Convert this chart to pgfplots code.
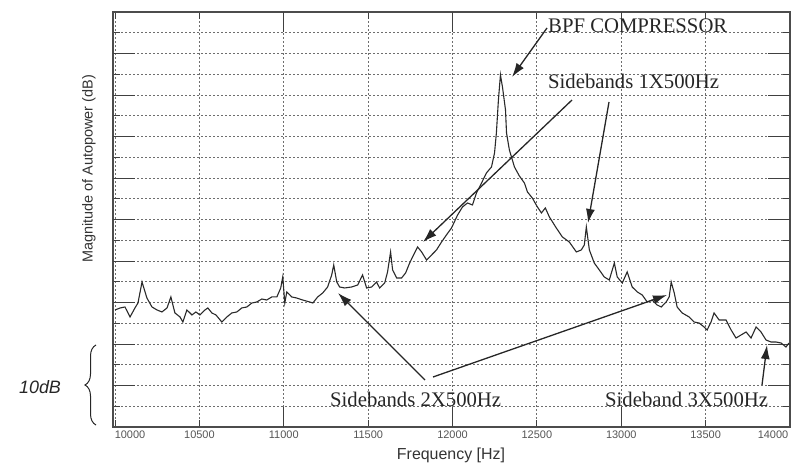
\documentclass[border=0pt]{standalone}
\usepackage{pgfplots}
\pgfplotsset{compat=1.18}
\usepackage{fontspec}
\setmainfont{Liberation Sans}
\newfontfamily\timesfont{Liberation Serif}
\usetikzlibrary{arrows.meta,decorations.pathreplacing}
\definecolor{curve}{HTML}{2A2A2A}
\definecolor{gridc}{HTML}{6E6E6E}
\definecolor{lab}{HTML}{555555}
\begin{document}
\begin{tikzpicture}
\begin{axis}[
  at={(113bp,40bp)}, anchor=south west,
  scale only axis, width=677bp, height=415bp,
  xmin=9988, xmax=14000, ymin=0, ymax=50,
  scaled x ticks=false,
  xtick={10000,10500,...,14000},
  xticklabels={\hspace*{30bp}10000,10500,11000,11500,12000,12500,13000,13500,14000\hspace*{34bp}},
  ytick={0,2.5,...,50}, yticklabels={},
  extra x ticks={11000,12000,13000}, extra x tick labels={},
  extra x tick style={major tick length=20bp, grid=none},
  extra y ticks={5,10,...,45}, extra y tick labels={},
  extra y tick style={major tick length=22bp, grid=none},
  major tick length=7bp, tick align=inside,
  tick style={black!75, line width=1bp},
  xmajorgrids, ymajorgrids,
  major grid style={gridc, line width=0.9bp, dash pattern=on 2.2bp off 1.8bp},
  axis line style={black!70, line width=1.1bp},
  /pgf/number format/assume math mode=true,
  xticklabel style={font=\fontsize{11}{11}\selectfont, text=lab},
  clip=true,
]
\addplot[curve, line width=1.1bp] coordinates {
(10000,14.10) (10030,14.34) (10059,14.46) (10089,13.26) (10118,14.34) (10136,14.94)
(10160,17.47) (10189,15.54) (10219,14.46) (10249,14.10) (10278,13.86) (10308,14.34)
(10331,15.67) (10355,13.74) (10385,13.26) (10402,12.65) (10426,14.10) (10456,13.50)
(10479,13.86) (10503,13.50) (10533,14.10) (10550,14.34) (10574,13.74) (10598,13.50)
(10633,12.65) (10663,13.26) (10692,13.74) (10722,13.86) (10751,14.34) (10781,14.46)
(10811,14.94) (10840,15.06) (10870,15.42) (10899,15.30) (10929,15.67) (10959,15.67)
(10982,16.75) (10994,18.08) (11006,14.94) (11018,16.27) (11047,15.67) (11077,15.54)
(11112,15.30) (11154,15.06) (11172,14.94) (11201,15.67) (11231,16.15) (11260,16.87)
(11284,18.32) (11296,19.52) (11314,17.47) (11331,16.87) (11361,16.75) (11402,16.87)
(11438,17.11) (11467,18.32) (11491,16.75) (11521,16.87) (11550,17.47) (11568,16.75)
(11598,17.35) (11615,18.68) (11633,21.09) (11645,18.92) (11669,17.95) (11698,17.95)
(11722,18.56) (11746,19.76) (11775,20.97) (11793,21.69) (11817,21.09) (11846,20.12)
(11876,20.73) (11905,21.33) (11935,22.29) (11964,23.14) (11994,23.98) (12030,25.54)
(12059,26.51) (12089,26.99) (12118,26.75) (12142,28.20) (12172,29.40) (12201,30.61)
(12231,31.33) (12249,33.02) (12260,35.43) (12272,39.40) (12284,42.42) (12296,40.97)
(12314,38.20) (12320,35.43) (12337,33.38) (12367,31.33) (12396,30.25) (12426,29.40)
(12444,28.32) (12473,27.59) (12503,26.51) (12527,25.79) (12550,26.39) (12574,25.31)
(12615,23.98) (12651,22.90) (12692,22.29) (12734,21.09) (12763,21.33) (12781,21.93)
(12793,24.10) (12811,21.33) (12840,19.76) (12870,18.92) (12899,18.08) (12929,17.71)
(12959,19.76) (12976,18.08) (13006,17.35) (13035,18.68) (13065,16.87) (13095,16.27)
(13124,15.91) (13154,15.06) (13183,15.30) (13213,14.70) (13237,14.46) (13266,15.06)
(13284,15.67) (13296,17.47) (13314,16.15) (13331,14.46) (13361,13.74) (13402,13.26)
(13432,12.65) (13461,12.53) (13491,12.05) (13509,11.69) (13532,12.65) (13550,13.74)
(13580,12.89) (13621,12.89) (13651,11.69) (13680,10.72) (13710,11.09) (13740,11.45)
(13769,10.72) (13799,12.05) (13828,11.45) (13858,10.48) (13888,10.24) (13917,10.24)
(13947,10.12) (13976,9.64) (13994,10.12)
};
\end{axis}
% axis labels
\node[rotate=90, font=\fontsize{14.5}{15}\selectfont, text=black!80] at (89bp,298bp) {Magnitude of Autopower (dB)};
\node[font=\fontsize{16}{17}\selectfont, text=black!80] at (451bp,12bp) {Frequency [Hz]};
% annotations
\begin{scope}[font=\timesfont\fontsize{20.8}{22}\selectfont, text=black!85]
\node[anchor=base west, inner sep=0] at (548bp,434bp) {BPF COMPRESSOR};
\node[anchor=base west, inner sep=0] at (548bp,378bp) {Sidebands 1X500Hz};
\node[anchor=base west, inner sep=0] at (330bp,60bp) {Sidebands 2X500Hz};
\node[anchor=base west, inner sep=0] at (605bp,60bp) {Sideband 3X500Hz};
\end{scope}
\begin{scope}[black!85, line width=1.3bp, -{Latex[length=14bp,width=9bp]}]
\draw (547bp,439bp) -- (512bp,390bp);
\draw (572bp,367bp) -- (423bp,225bp);
\draw (609bp,365bp) -- (588bp,244bp);
\draw (425bp,87bp) -- (338bp,174bp);
\draw (433bp,90bp) -- (667bp,172bp);
\draw (762bp,82bp) -- (767bp,122bp);
\end{scope}
\node[font=\fontsize{18}{18}\selectfont\itshape, text=black!85] at (40bp,80bp) {10dB};
\draw[black!85, line width=1bp, decorate, decoration={brace, amplitude=11bp}] (96bp,42bp) -- (96bp,122bp);
\pgfresetboundingbox
\path[use as bounding box] (0,0) rectangle (795bp,467bp);
\end{tikzpicture}
\end{document}
